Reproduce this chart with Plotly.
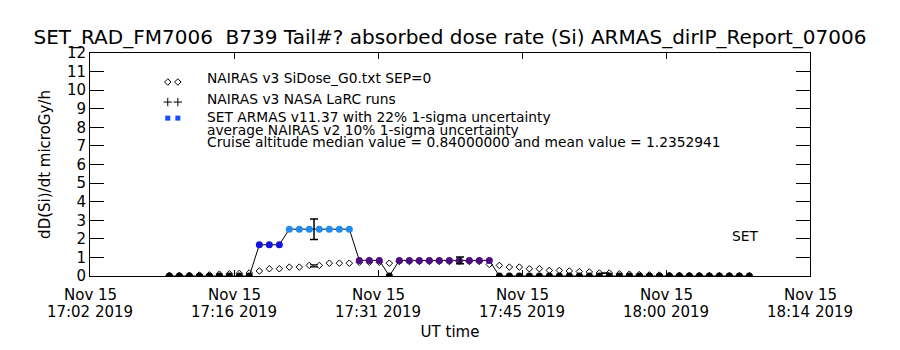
import plotly.graph_objects as go
import pandas as pd

# ---------------- data ----------------
armas_start = "2019-11-15 17:10:26"
armas_times = pd.date_range(armas_start, periods=59, freq="1min")

armas_dose = [0, 0, 0, 0, 0, 0, 0, 0, 0,
              1.68, 1.68, 1.68,
              2.52, 2.52, 2.52, 2.52, 2.52, 2.52, 2.52,
              0.84, 0.84, 0.84,
              0,
              0.84, 0.84, 0.84, 0.84, 0.84, 0.84, 0.84, 0.84, 0.84, 0.84,
              0, 0, 0, 0, 0, 0, 0, 0, 0, 0, 0, 0, 0,
              0, 0, 0, 0, 0, 0, 0, 0, 0, 0, 0, 0, 0]

nairas_dose = [0.03, 0.03, 0.04, 0.05, 0.06, 0.10, 0.12, 0.14, 0.16,
               0.27, 0.39, 0.39, 0.48, 0.48, 0.57, 0.57, 0.69, 0.69, 0.69,
               0.74, 0.74, 0.74, 0.69,
               0.78, 0.78, 0.78, 0.78, 0.78, 0.78, 0.78, 0.78, 0.78, 0.62,
               0.57, 0.48, 0.48, 0.39, 0.39, 0.30, 0.30, 0.27, 0.24, 0.22,
               0.16, 0.16, 0.12, 0.10, 0.08, 0.06, 0.05, 0.04, 0.04, 0.03,
               0.03, 0.02, 0.02, 0.02, 0.01, 0.01]

armas_err_times = ["2019-11-15 17:24:54", "2019-11-15 17:39:30"]
armas_err_vals = [2.52, 0.84]
armas_err_sigma = [0.55, 0.185]

nairas_err_times = ["2019-11-15 17:24:54", "2019-11-15 17:54:00"]
nairas_err_vals = [0.55, 0.15]
nairas_err_sigma = [0.055, 0.015]

x_tickvals = ["2019-11-15 17:02:30", "2019-11-15 17:16:54", "2019-11-15 17:31:18",
              "2019-11-15 17:45:42", "2019-11-15 18:00:06", "2019-11-15 18:14:30"]
x_ticktext = ["17:02 2019", "17:16 2019", "17:31 2019",
              "17:45 2019", "18:00 2019", "18:14 2019"]
x_tickdate = ["Nov 15", "Nov 15", "Nov 15", "Nov 15", "Nov 15", "Nov 15"]
y_ticks = list(range(0, 13))

title_text = "SET_RAD_FM7006  B739 Tail#? absorbed dose rate (Si) ARMAS_dirIP_Report_07006"
legend_lines = ["NAIRAS v3 SiDose_G0.txt SEP=0",
                "NAIRAS v3 NASA LaRC runs",
                "SET ARMAS v11.37 with 22% 1-sigma uncertainty",
                "average NAIRAS v2 10% 1-sigma uncertainty",
                "Cruise altitude median value = 0.84000000 and mean value = 1.2352941"]

# ---------------- figure ----------------
FONT = "DejaVu Sans"
fig = go.Figure()

fig.add_trace(go.Scatter(
    x=armas_times, y=nairas_dose, mode="markers",
    marker=dict(symbol="diamond-open", size=5, color="black", line=dict(width=1)),
    showlegend=False))

fig.add_trace(go.Scatter(
    x=nairas_err_times, y=nairas_err_vals, mode="markers",
    marker=dict(size=1, color="rgba(0,0,0,0)"),
    error_y=dict(type="data", array=nairas_err_sigma, color="black", thickness=1.2, width=4),
    showlegend=False))

fig.add_trace(go.Scatter(
    x=armas_times, y=armas_dose, mode="lines+markers",
    line=dict(color="black", width=1),
    marker=dict(symbol="circle", size=7, color=armas_dose, cmin=0, cmax=2.52,
                colorscale=[[0, "#000000"], [0.3333, "#4e0a80"],
                            [0.6667, "#1414e0"], [1, "#1e8cf0"]],
                line=dict(width=0)),
    showlegend=False))

fig.add_trace(go.Scatter(
    x=armas_err_times, y=armas_err_vals, mode="markers",
    marker=dict(size=1, color="rgba(0,0,0,0)"),
    error_y=dict(type="data", array=armas_err_sigma, color="black", thickness=1.5, width=4),
    showlegend=False))

# legend symbols (overlay axes in plot fractions)
fig.add_trace(go.Scatter(x=[0.108, 0.122], y=[0.87, 0.87], xaxis="x2", yaxis="y2",
                         mode="markers", showlegend=False,
                         marker=dict(symbol="diamond-open", size=5, color="black", line=dict(width=1))))
fig.add_trace(go.Scatter(x=[0.108, 0.122], y=[0.78, 0.78], xaxis="x2", yaxis="y2",
                         mode="markers", showlegend=False,
                         marker=dict(symbol="cross-thin", size=6, color="black", line=dict(width=1, color="black"))))
fig.add_trace(go.Scatter(x=[0.108, 0.122], y=[0.708, 0.708], xaxis="x2", yaxis="y2",
                         mode="markers", showlegend=False,
                         marker=dict(symbol="square", size=5, color="#1a4cff")))

legend_y = [0.889, 0.792, 0.712, 0.655, 0.602]
for txt, yy in zip(legend_lines, legend_y):
    fig.add_annotation(x=0.16, y=yy, xref="paper", yref="paper", text=txt,
                       showarrow=False, xanchor="left", yanchor="middle",
                       font=dict(family=FONT, size=13.8, color="black"))

fig.add_annotation(x=0.91, y=0.181, xref="paper", yref="paper", text="SET",
                   showarrow=False, xanchor="center", yanchor="middle",
                   font=dict(family=FONT, size=13.8, color="black"))

# first line of the two-line date tick labels
for tv, td in zip(x_tickvals, x_tickdate):
    fig.add_annotation(x=tv, y=-0.084, xref="x", yref="paper", text=td,
                       showarrow=False, xanchor="center", yanchor="middle",
                       font=dict(family=FONT, size=15, color="black"))

fig.update_layout(
    width=900, height=350,
    margin=dict(l=90, r=90, t=53, b=71),
    paper_bgcolor="white", plot_bgcolor="white",
    font=dict(family=FONT, size=15, color="black"),
    title=dict(text=title_text, x=0.5, xanchor="center", y=1 - 37 / 350, yanchor="middle",
               font=dict(family=FONT, size=20, color="black")),
    xaxis=dict(type="date", range=[x_tickvals[0], x_tickvals[-1]],
               tickmode="array", tickvals=x_tickvals, ticktext=x_ticktext,
               ticks="inside", ticklen=6, tickwidth=1, tickcolor="black",
               ticklabelstandoff=22,
               showline=True, linecolor="black", linewidth=1, mirror="ticks",
               showgrid=False, zeroline=False,
               minor=dict(ticks="inside", ticklen=3, tickwidth=1, tickcolor="black",
                          dtick=86400000, tick0=x_tickvals[0], showgrid=False),
               title=dict(text="UT time", font=dict(family=FONT, size=15), standoff=6),
               tickfont=dict(family=FONT, size=15)),
    yaxis=dict(range=[0, 12], tickmode="array", tickvals=y_ticks,
               ticks="inside", ticklen=14, tickwidth=1, tickcolor="black",
               showline=True, linecolor="black", linewidth=1, mirror="ticks",
               showgrid=False, zeroline=False,
               title=dict(text="dD(Si)/dt microGy/h", font=dict(family=FONT, size=15), standoff=12),
               tickfont=dict(family=FONT, size=15)),
    xaxis2=dict(overlaying="x", range=[0, 1], visible=False),
    yaxis2=dict(overlaying="y", range=[0, 1], visible=False),
)

fig.write_html("out.html")
